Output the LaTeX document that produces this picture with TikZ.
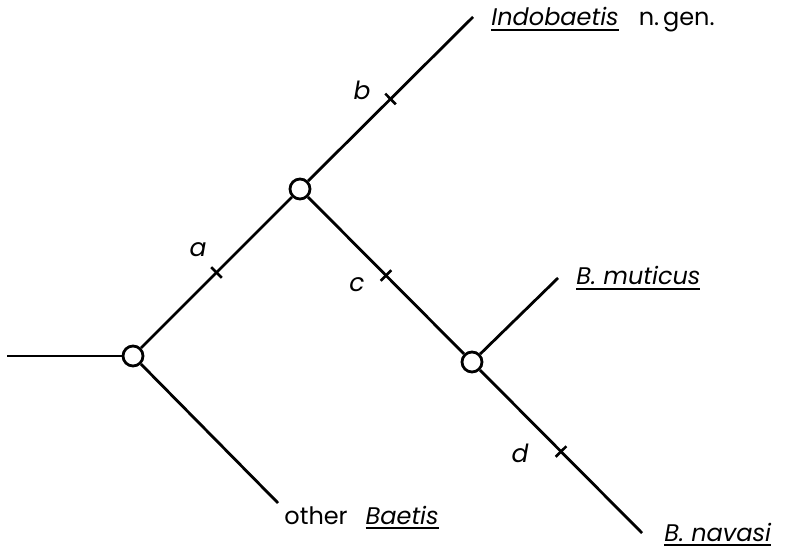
\documentclass[tikz,border=0pt]{standalone}
\usepackage{fontspec}
\setmainfont{Poppins}
\newcommand\taxon[1]{\vtop{\hbox{\textit{#1}}\kern1.5pt\hrule height 1pt}}

\begin{document}
\begin{tikzpicture}[x=0.5pt,y=-0.5pt,line width=1.4pt,
    fork/.style={circle,draw,fill=white,inner sep=0pt,minimum size=10pt},
    tickmark/.style={draw,rectangle,inner sep=0pt,minimum width=0pt,minimum height=7.5pt,sloped,line width=1.3pt},
    taxlabel/.style={anchor=base west,inner sep=0pt,font=\fontsize{12}{14}\selectfont},
    charlabel/.style={inner sep=0pt,font=\fontsize{12.5}{14}\itshape}]
  \useasboundingbox (0,0) rectangle (791,549);
      \draw
        (7,356) coordinate (root)
        (133,356) node[fork] (1){}
        (300,189) node[fork] (2){}
        (472,362) node[fork] (3){}
        (473,17) coordinate (tI)
        (558,278) coordinate (tM)
        (642,533) coordinate (tN)
        (278,503) coordinate (tB);
      \begin{scope}[-]
        \draw (root) -- (1);
        \draw (1) -- node[tickmark] (ka){} (2);
        \draw (1) -- (tB);
        \draw (2) -- node[tickmark] (kb){} (tI);
        \draw (2) -- node[tickmark] (kc){} (3);
        \draw (3) -- (tM);
        \draw (3) -- node[tickmark] (kd){} (tN);
      \end{scope}
      \node[charlabel] (a) at (198,250) {a};
      \node[charlabel] (b) at (362,90) {b};
      \node[charlabel] (c) at (357,285) {c};
      \node[charlabel] (d) at (520,453) {d};
      \node[taxlabel] (I) at (490,26) {\taxon{Indobaetis}\hspace{10pt}n.\,gen.};
      \node[taxlabel] (M) at (575,285) {\taxon{B. muticus}};
      \node[taxlabel] (B) at (283,524) {other\hspace{9pt}\taxon{Baetis}};
      \node[taxlabel] (N) at (663,541) {\taxon{B. navasi}};
    \end{tikzpicture}
\end{document}
